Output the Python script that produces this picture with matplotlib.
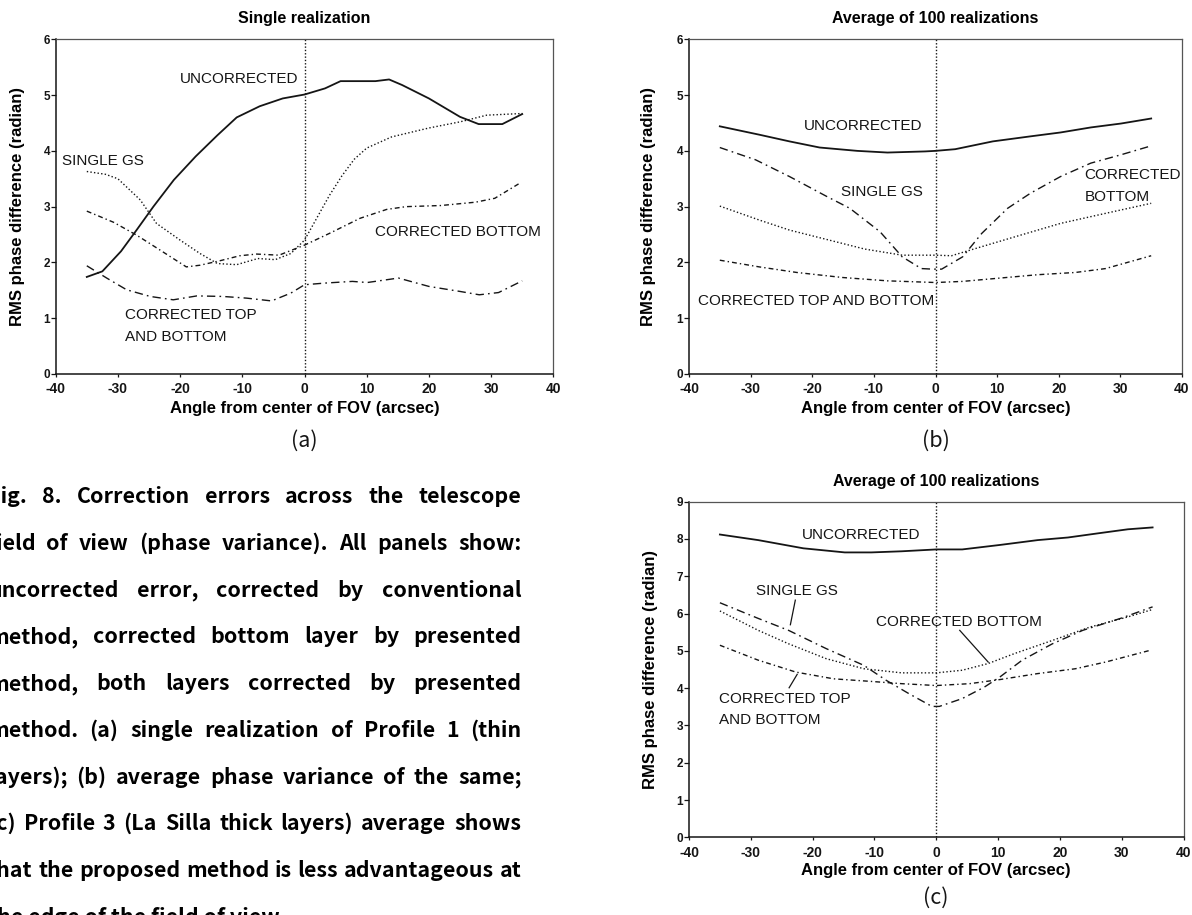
import matplotlib
matplotlib.use("Agg")
import matplotlib.pyplot as plt

# ---------------- data ----------------
x_ticks = [-40, -30, -20, -10, 0, 10, 20, 30, 40]
x_tick_labels = ["-40", "-30", "-20", "-10", "0", "10", "20", "30", "40"]
y_ticks_ab = [0, 1, 2, 3, 4, 5, 6]
y_ticks_c = [0, 1, 2, 3, 4, 5, 6, 7, 8, 9]

titles = ["Single realization", "Average of 100 realizations", "Average of 100 realizations"]
x_label = "Angle from center of FOV (arcsec)"
y_label = "RMS phase difference (radian)"
panel_tags = ["(a)", "(b)", "(c)"]

# panel (a) single realization
a_x_unc = [-35, -32.5, -29.5, -27, -24.3, -21, -17.5, -14, -10.9, -7.2, -3.5, 0, 3.3, 5.8, 11.4, 13.6, 15.7, 20, 25, 28, 31.8, 35]
a_y_unc = [1.74, 1.84, 2.2, 2.58, 3.0, 3.48, 3.9, 4.28, 4.6, 4.8, 4.94, 5.01, 5.12, 5.25, 5.25, 5.28, 5.18, 4.94, 4.61, 4.48, 4.48, 4.66]
a_x_sgs = [-35, -32, -30, -26.4, -23.8, -20, -16.8, -14, -10.9, -7.5, -4.7, -2.2, 0, 2, 4, 6, 8, 10, 14, 20, 25, 29.3, 35]
a_y_sgs = [3.63, 3.58, 3.5, 3.12, 2.7, 2.4, 2.16, 1.98, 1.96, 2.07, 2.05, 2.16, 2.4, 2.8, 3.2, 3.55, 3.85, 4.05, 4.25, 4.41, 4.52, 4.64, 4.67]
a_x_cb = [-35, -30.7, -27, -23.2, -19, -16.8, -13.6, -10.4, -7.7, -4.1, 0, 4, 8.9, 13.2, 16.3, 21.9, 27.5, 30.6, 34.6]
a_y_cb = [2.92, 2.72, 2.49, 2.22, 1.92, 1.95, 2.03, 2.12, 2.15, 2.13, 2.31, 2.52, 2.79, 2.95, 3.0, 3.02, 3.08, 3.15, 3.42]
a_x_ctb = [-35, -31.8, -28.6, -24.8, -21.1, -17.3, -13.1, -9.3, -5.3, -2.2, 0, 3.3, 7.7, 10.1, 15.1, 20, 25, 28.1, 31.2, 35]
a_y_ctb = [1.94, 1.72, 1.51, 1.39, 1.33, 1.4, 1.39, 1.36, 1.31, 1.45, 1.6, 1.63, 1.66, 1.64, 1.72, 1.57, 1.48, 1.42, 1.46, 1.67]

# panel (b) average of 100 realizations, profile 1
b_x_unc = [-35, -28.6, -23.7, -18.8, -12.7, -7.8, -1.7, 0, 3.2, 9.3, 15.4, 20.3, 25.2, 30.1, 35]
b_y_unc = [4.44, 4.29, 4.17, 4.06, 4.0, 3.97, 3.99, 4.0, 4.03, 4.17, 4.26, 4.33, 4.42, 4.49, 4.58]
b_x_sgs = [-35, -29.2, -23.7, -17.6, -13.9, -9, -5.4, -2.3, -0.5, 1, 4.4, 7.5, 11.7, 15.4, 20.3, 25.2, 30.1, 35]
b_y_sgs = [4.06, 3.84, 3.54, 3.18, 2.97, 2.55, 2.1, 1.89, 1.88, 1.88, 2.1, 2.52, 2.97, 3.24, 3.54, 3.78, 3.93, 4.09]
b_x_cb = [-35, -28.6, -23.7, -17.6, -11.5, -5.4, 0, 2.6, 6.2, 12.9, 20.3, 27.6, 35]
b_y_cb = [3.01, 2.76, 2.58, 2.41, 2.24, 2.13, 2.13, 2.12, 2.24, 2.46, 2.7, 2.88, 3.06]
b_x_ctb = [-35, -28.6, -22.5, -15.1, -7.8, 0, 4.4, 10.5, 16.6, 22.7, 27.6, 35]
b_y_ctb = [2.04, 1.92, 1.82, 1.73, 1.67, 1.64, 1.66, 1.72, 1.78, 1.82, 1.89, 2.12]

# panel (c) average of 100 realizations, profile 3
c_x_unc = [-35, -28.8, -21.5, -14.8, -10.5, -5.6, 0, 4.2, 10.3, 16.4, 21.3, 26.1, 31, 35]
c_y_unc = [8.12, 7.97, 7.75, 7.64, 7.64, 7.67, 7.72, 7.72, 7.84, 7.97, 8.04, 8.15, 8.26, 8.31]
c_x_sgs = [-35, -28.8, -23.9, -17.8, -11.7, -8.1, -4.4, -0.7, 0.5, 4.2, 7.8, 10.3, 13.9, 18.8, 23.7, 29.8, 35]
c_y_sgs = [6.29, 5.87, 5.55, 5.06, 4.61, 4.21, 3.85, 3.51, 3.51, 3.72, 4.03, 4.3, 4.75, 5.19, 5.55, 5.87, 6.18]
c_x_cb = [-35, -28.8, -23.9, -17.8, -11.7, -5.6, 0, 4.2, 8.4, 12.7, 18.8, 24.9, 31, 35]
c_y_cb = [6.07, 5.55, 5.19, 4.79, 4.52, 4.41, 4.41, 4.48, 4.66, 4.93, 5.28, 5.64, 5.91, 6.11]
c_x_ctb = [-35, -28.8, -22.7, -16.6, -10.5, -5.6, 0, 5.4, 10.3, 16.4, 22.5, 27.4, 34.5]
c_y_ctb = [5.15, 4.75, 4.43, 4.25, 4.18, 4.12, 4.07, 4.12, 4.23, 4.39, 4.52, 4.7, 5.01]

caption_lines = [
    "Fig. 8. Correction errors across the telescope",
    "field of view (phase variance). All panels show:",
    "uncorrected error, corrected by conventional",
    "method, corrected bottom layer by presented",
    "method, both layers corrected by presented",
    "method. (a) single realization of Profile 1 (thin",
    "layers); (b) average phase variance of the same;",
    "(c) Profile 3 (La Silla thick layers) average shows",
    "that the proposed method is less advantageous at",
    "the edge of the field of view.",
]

# ---------------- figure ----------------
W, H = 1192, 915
fig = plt.figure(figsize=(W / 100, H / 100), dpi=100)
fig.patch.set_facecolor("white")
FONT = "Liberation Sans"
INK = "#151515"


def axes_px(l, t, r, b):
    return fig.add_axes([l / W, 1 - b / H, (r - l) / W, (b - t) / H])


DOT = (0, (1.0, 1.6))
DASHDOT_S = (0, (3.5, 2.2, 1.0, 2.2))
DASHDOT_L = (0, (6.0, 3.0, 1.2, 3.0))


def style_axes(ax, ymax, yticks, title, title_px, top_px, bot_px, ylab_px, xlab_px, left_px, right_px):
    ax.set_xlim(-40, 40)
    ax.set_ylim(0, ymax)
    ax.set_xticks(x_ticks)
    ax.set_xticklabels(x_tick_labels, fontsize=10, fontweight="bold", family=FONT)
    ax.set_yticks(yticks)
    ax.set_yticklabels([str(v) for v in yticks], fontsize=8.5, fontweight="bold", family=FONT)
    ax.tick_params(axis="x", direction="out", length=2.5, width=0.9, pad=3.5, colors=INK)
    ax.tick_params(axis="y", direction="out", length=3.6, width=0.9, pad=0.5, colors=INK)
    for s in ["left", "bottom"]:
        ax.spines[s].set_linewidth(1.1)
        ax.spines[s].set_color(INK)
    for s in ["top", "right"]:
        ax.spines[s].set_linewidth(0.9)
        ax.spines[s].set_color("#555555")
    ax.axvline(0, color=INK, lw=1.0, ls=(0, (1.0, 1.4)))
    h = bot_px - top_px
    w = right_px - left_px
    ax.set_title(title, fontsize=11.5, fontweight="bold", family=FONT,
                 y=(bot_px - title_px) / h, va="center", pad=0)
    ax.set_xlabel(x_label, fontsize=12, fontweight="bold", family=FONT)
    ax.xaxis.set_label_coords(0.5, (bot_px - xlab_px) / h)
    ax.xaxis.label.set_va("center")
    ax.set_ylabel(y_label, fontsize=12, fontweight="bold", family=FONT)
    ax.yaxis.set_label_coords((ylab_px - left_px) / w, 0.5)
    ax.yaxis.label.set_va("center")


def lbl(ax, x, y, s):
    ax.text(x, y, s, fontsize=11, family=FONT, color=INK, va="center", ha="left")


# panel (a)
axa = axes_px(55.7, 39.3, 553.3, 374)
axa.plot(a_x_unc, a_y_unc, color=INK, lw=1.3, ls="-")
axa.plot(a_x_sgs, a_y_sgs, color=INK, lw=1.0, ls=DOT)
axa.plot(a_x_cb, a_y_cb, color=INK, lw=1.0, ls=DASHDOT_S)
axa.plot(a_x_ctb, a_y_ctb, color=INK, lw=1.0, ls=DASHDOT_L)
style_axes(axa, 6, y_ticks_ab, titles[0], 18.3, 39.3, 374, 18, 408, 55.7, 553.3)
lbl(axa, -20.0, 5.29, "UNCORRECTED")
lbl(axa, -39.0, 3.82, "SINGLE GS")
lbl(axa, 11.4, 2.54, "CORRECTED BOTTOM")
lbl(axa, -28.8, 1.06, "CORRECTED TOP")
lbl(axa, -28.8, 0.67, "AND BOTTOM")

# panel (b)
axb = axes_px(689, 39.3, 1182, 374)
axb.plot(b_x_unc, b_y_unc, color=INK, lw=1.3, ls="-")
axb.plot(b_x_sgs, b_y_sgs, color=INK, lw=1.0, ls=DASHDOT_L)
axb.plot(b_x_cb, b_y_cb, color=INK, lw=1.0, ls=DOT)
axb.plot(b_x_ctb, b_y_ctb, color=INK, lw=1.0, ls=DASHDOT_S)
style_axes(axb, 6, y_ticks_ab, titles[1], 18.3, 39.3, 374, 649, 408, 689, 1182)
lbl(axb, -21.3, 4.44, "UNCORRECTED")
lbl(axb, -15.3, 3.26, "SINGLE GS")
lbl(axb, 24.2, 3.57, "CORRECTED")
lbl(axb, 24.2, 3.18, "BOTTOM")
lbl(axb, -38.5, 1.30, "CORRECTED TOP AND BOTTOM")

# panel (c)
axc = axes_px(689, 501.7, 1183.5, 837.3)
axc.plot(c_x_unc, c_y_unc, color=INK, lw=1.3, ls="-")
axc.plot(c_x_sgs, c_y_sgs, color=INK, lw=1.0, ls=DASHDOT_L)
axc.plot(c_x_cb, c_y_cb, color=INK, lw=1.0, ls=DOT)
axc.plot(c_x_ctb, c_y_ctb, color=INK, lw=1.0, ls=DASHDOT_S)
style_axes(axc, 9, y_ticks_c, titles[2], 481.7, 501.7, 837.3, 651, 871, 689, 1183.5)
lbl(axc, -21.8, 8.10, "UNCORRECTED")
lbl(axc, -29.1, 6.61, "SINGLE GS")
lbl(axc, -9.7, 5.78, "CORRECTED BOTTOM")
lbl(axc, -35.1, 3.72, "CORRECTED TOP")
lbl(axc, -35.1, 3.15, "AND BOTTOM")
axc.plot([-22.8, -23.6], [6.36, 5.70], color=INK, lw=0.9)
axc.plot([3.8, 8.4], [5.55, 4.70], color=INK, lw=0.9)
axc.plot([-23.8, -22.5], [4.01, 4.37], color=INK, lw=0.9)

# panel tags
TAGF = dict(family=["Noto Sans CJK JP", "DejaVu Sans"], fontsize=15.5, ha="center", va="center", color=INK)
fig.text(304.5 / W, 1 - 441 / H, panel_tags[0], **TAGF)
fig.text(935.5 / W, 1 - 441 / H, panel_tags[1], **TAGF)
fig.text(936 / W, 1 - 898 / H, panel_tags[2], **TAGF)

# caption, justified
CAPF = dict(family=["Noto Sans CJK JP", "DejaVu Sans"], fontsize=15.4, fontweight="bold", color="black", va="baseline", ha="left")
L, R = -12.0, 521.5
base0, step = 503.3, 46.7
renderer = fig.canvas.get_renderer()
for i, line in enumerate(caption_lines):
    yb = 1 - (base0 + step * i) / H
    if i == len(caption_lines) - 1:
        fig.text(L / W, yb, line, **CAPF)
        continue
    words = line.split(" ")
    objs = [fig.text(0, yb, wd, **CAPF) for wd in words]
    widths = [o.get_window_extent(renderer).width for o in objs]
    gap = (R - L - sum(widths)) / (len(words) - 1)
    x = L
    for o, wd in zip(objs, widths):
        o.set_x(x / W)
        x += wd + gap

fig.savefig("out.png", dpi=100, facecolor="white")
